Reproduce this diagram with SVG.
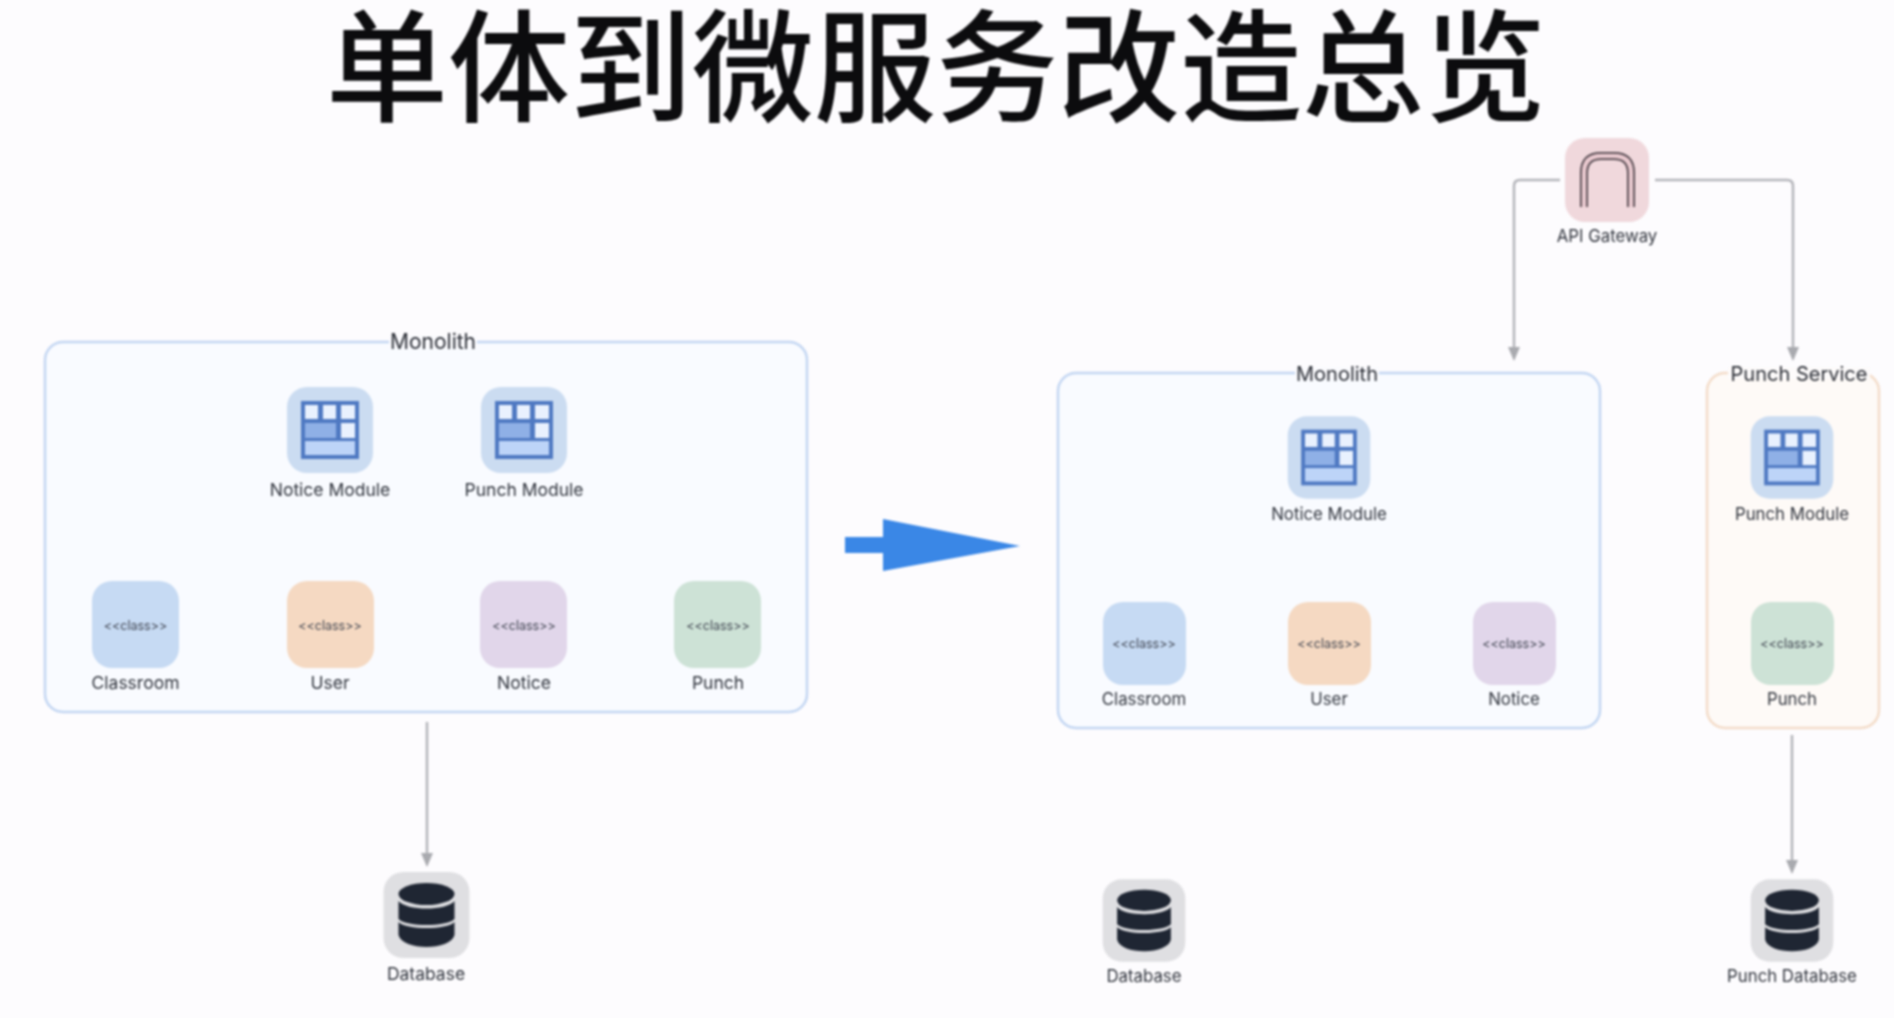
<svg xmlns="http://www.w3.org/2000/svg" width="1894" height="1018" viewBox="0 0 1894 1018">
<style>
text{font-family:"Inter","Liberation Sans","Noto Sans CJK SC",sans-serif;text-anchor:middle;fill:#23262e}
.title{font-family:"Noto Sans CJK SC","Noto Sans",sans-serif;font-size:122px;font-weight:500;fill:#0c0c0e}
.grp{font-size:20px;fill:#2b2e36}
.lbl{font-size:17.500px;fill:#30343d}
.lbr{font-size:16.800px;fill:#30343d}
.cls{font-size:12.500px;fill:#3f4450}
.box{stroke-width:2.500}
.conn{fill:none;stroke:#b4b5ba;stroke-width:2.500}
.soft{filter:url(#b)}
</style>
<defs>
<filter id="b" x="-2%" y="-2%" width="104%" height="104%" color-interpolation-filters="sRGB"><feGaussianBlur stdDeviation="0.85"/></filter>
<marker id="ah" viewBox="0 0 14 12" refX="11" refY="6" markerWidth="14" markerHeight="12" markerUnits="userSpaceOnUse" orient="auto"><path d="M0 0L14 6L0 12Z" fill="#a9aaaf"/></marker>
<g id="mod"><rect x="-43" y="-43" width="86" height="86" rx="20" fill="#cbdcf1"/><rect x="-29" y="-29" width="58" height="58" fill="#4f79c2"/><rect x="-25" y="-25" width="13" height="14" fill="#e9f1fe"/><rect x="-7" y="-25" width="13" height="14" fill="#e9f1fe"/><rect x="11" y="-25" width="14" height="14" fill="#e9f1fe"/><rect x="-25" y="-7" width="31" height="15" fill="#8fb0e6"/><rect x="11" y="-7" width="14" height="15" fill="#e9f1fe"/><rect x="-25" y="11" width="50" height="14" fill="#bdd4f8"/></g>
<g id="db"><rect x="-43" y="-43" width="86" height="86" rx="20" fill="#dfdfe2"/><ellipse cx="0" cy="-21" rx="28" ry="11" fill="#1f2633"/><path d="M-28 -14C-20 -4 20 -4 28 -14V4C20 12 -20 12 -28 4Z" fill="#1f2633"/><path d="M-28 7C-20 15 20 15 28 7V20C24 36 -24 36 -28 20Z" fill="#1f2633"/></g>
</defs>
<rect width="1894" height="1018" fill="#fdfcfe"/>
<text class="title soft" x="936" y="112">单体到微服务改造总览</text>
<g class="soft">
<g id="connectors">
<path class="conn" d="M427 722V864" marker-end="url(#ah)"/>
<path class="conn" d="M1560 180H1520Q1514 180 1514 186V358" marker-end="url(#ah)"/>
<path class="conn" d="M1655 180H1787Q1793 180 1793 186V358" marker-end="url(#ah)"/>
<path class="conn" d="M1792 735V871" marker-end="url(#ah)"/>
</g>
<g id="big-arrow"><path d="M845 537H883V519L1020 546L883 571V553H845Z" fill="#3a87e6"/></g>
<g id="monolith-left">
<rect class="box" x="45" y="342" width="762" height="370" rx="18" fill="#f9fbff" stroke="#c3d6f2"/>
<rect x="389" y="336" width="88" height="12" fill="#fbfbfe"/>
<text class="grp" style="font-size:21px" x="433" y="349">Monolith</text>
</g>
<g id="notice-module-l"><use href="#mod" x="330" y="430"/><text class="lbl" x="330" y="496">Notice Module</text></g>
<g id="punch-module-l"><use href="#mod" x="524" y="430"/><text class="lbl" x="524" y="496">Punch Module</text></g>
<g id="classroom-l"><rect x="92" y="581" width="87" height="87" rx="20" fill="#c6daf3"/><text class="cls" x="135.500" y="630">&lt;&lt;class&gt;&gt;</text><text class="lbl" x="135.500" y="689">Classroom</text></g>
<g id="user-l"><rect x="287" y="581" width="87" height="87" rx="20" fill="#f5d9c2"/><text class="cls" x="330" y="630">&lt;&lt;class&gt;&gt;</text><text class="lbl" x="330" y="689">User</text></g>
<g id="notice-l"><rect x="480" y="581" width="87" height="87" rx="20" fill="#e1d6ea"/><text class="cls" x="524" y="630">&lt;&lt;class&gt;&gt;</text><text class="lbl" x="524" y="689">Notice</text></g>
<g id="punch-l"><rect x="674" y="581" width="87" height="87" rx="20" fill="#cde2d6"/><text class="cls" x="718" y="630">&lt;&lt;class&gt;&gt;</text><text class="lbl" x="718" y="689">Punch</text></g>
<g id="db-l"><use href="#db" x="426.500" y="915"/><text class="lbl" x="426" y="980">Database</text></g>
<g id="gateway"><rect x="1565" y="138" width="84" height="84" rx="20" fill="#f0d8dc"/><path d="M1584 207V173Q1584 156 1601 156H1614Q1631 156 1631 173V207" fill="none" stroke="#4f444b" stroke-width="8"/><path d="M1584 207V173Q1584 156 1601 156H1614Q1631 156 1631 173V207" fill="none" stroke="#e9c9cf" stroke-width="4.500"/><text class="lbr" x="1607" y="242">API Gateway</text></g>
<g id="monolith-right">
<rect class="box" x="1058" y="373" width="542" height="355" rx="18" fill="#f9fbff" stroke="#c3d6f2"/>
<rect x="1295" y="367" width="84" height="12" fill="#fbfbfe"/>
<text class="grp" x="1337" y="381">Monolith</text>
</g>
<g id="punch-service">
<rect class="box" x="1707" y="373" width="172" height="355" rx="18" fill="#fefaf7" stroke="#f3dcc9"/>
<rect x="1728" y="367" width="142" height="12" fill="#fdfbfb"/>
<text class="grp" x="1799" y="381">Punch Service</text>
</g>
<g id="notice-module-r"><use href="#mod" transform="translate(1329 457.500) scale(.96)"/><text class="lbr" x="1329" y="520">Notice Module</text></g>
<g id="punch-module-r"><use href="#mod" transform="translate(1792 457.500) scale(.96)"/><text class="lbr" x="1792" y="520">Punch Module</text></g>
<g id="classroom-r"><rect x="1103" y="602" width="83" height="83" rx="20" fill="#c6daf3"/><text class="cls" x="1144" y="648">&lt;&lt;class&gt;&gt;</text><text class="lbr" x="1144" y="705">Classroom</text></g>
<g id="user-r"><rect x="1288" y="602" width="83" height="83" rx="20" fill="#f5d9c2"/><text class="cls" x="1329" y="648">&lt;&lt;class&gt;&gt;</text><text class="lbr" x="1329" y="705">User</text></g>
<g id="notice-r"><rect x="1473" y="602" width="83" height="83" rx="20" fill="#e1d6ea"/><text class="cls" x="1514" y="648">&lt;&lt;class&gt;&gt;</text><text class="lbr" x="1514" y="705">Notice</text></g>
<g id="punch-r"><rect x="1751" y="602" width="83" height="83" rx="20" fill="#cde2d6"/><text class="cls" x="1792" y="648">&lt;&lt;class&gt;&gt;</text><text class="lbr" x="1792" y="705">Punch</text></g>
<g id="db-r"><use href="#db" transform="translate(1144 920.500) scale(.96)"/><text class="lbr" x="1144" y="982">Database</text></g>
<g id="db-punch"><use href="#db" transform="translate(1792 920.500) scale(.96)"/><text class="lbr" x="1792" y="982">Punch Database</text></g>
</g>
</svg>
